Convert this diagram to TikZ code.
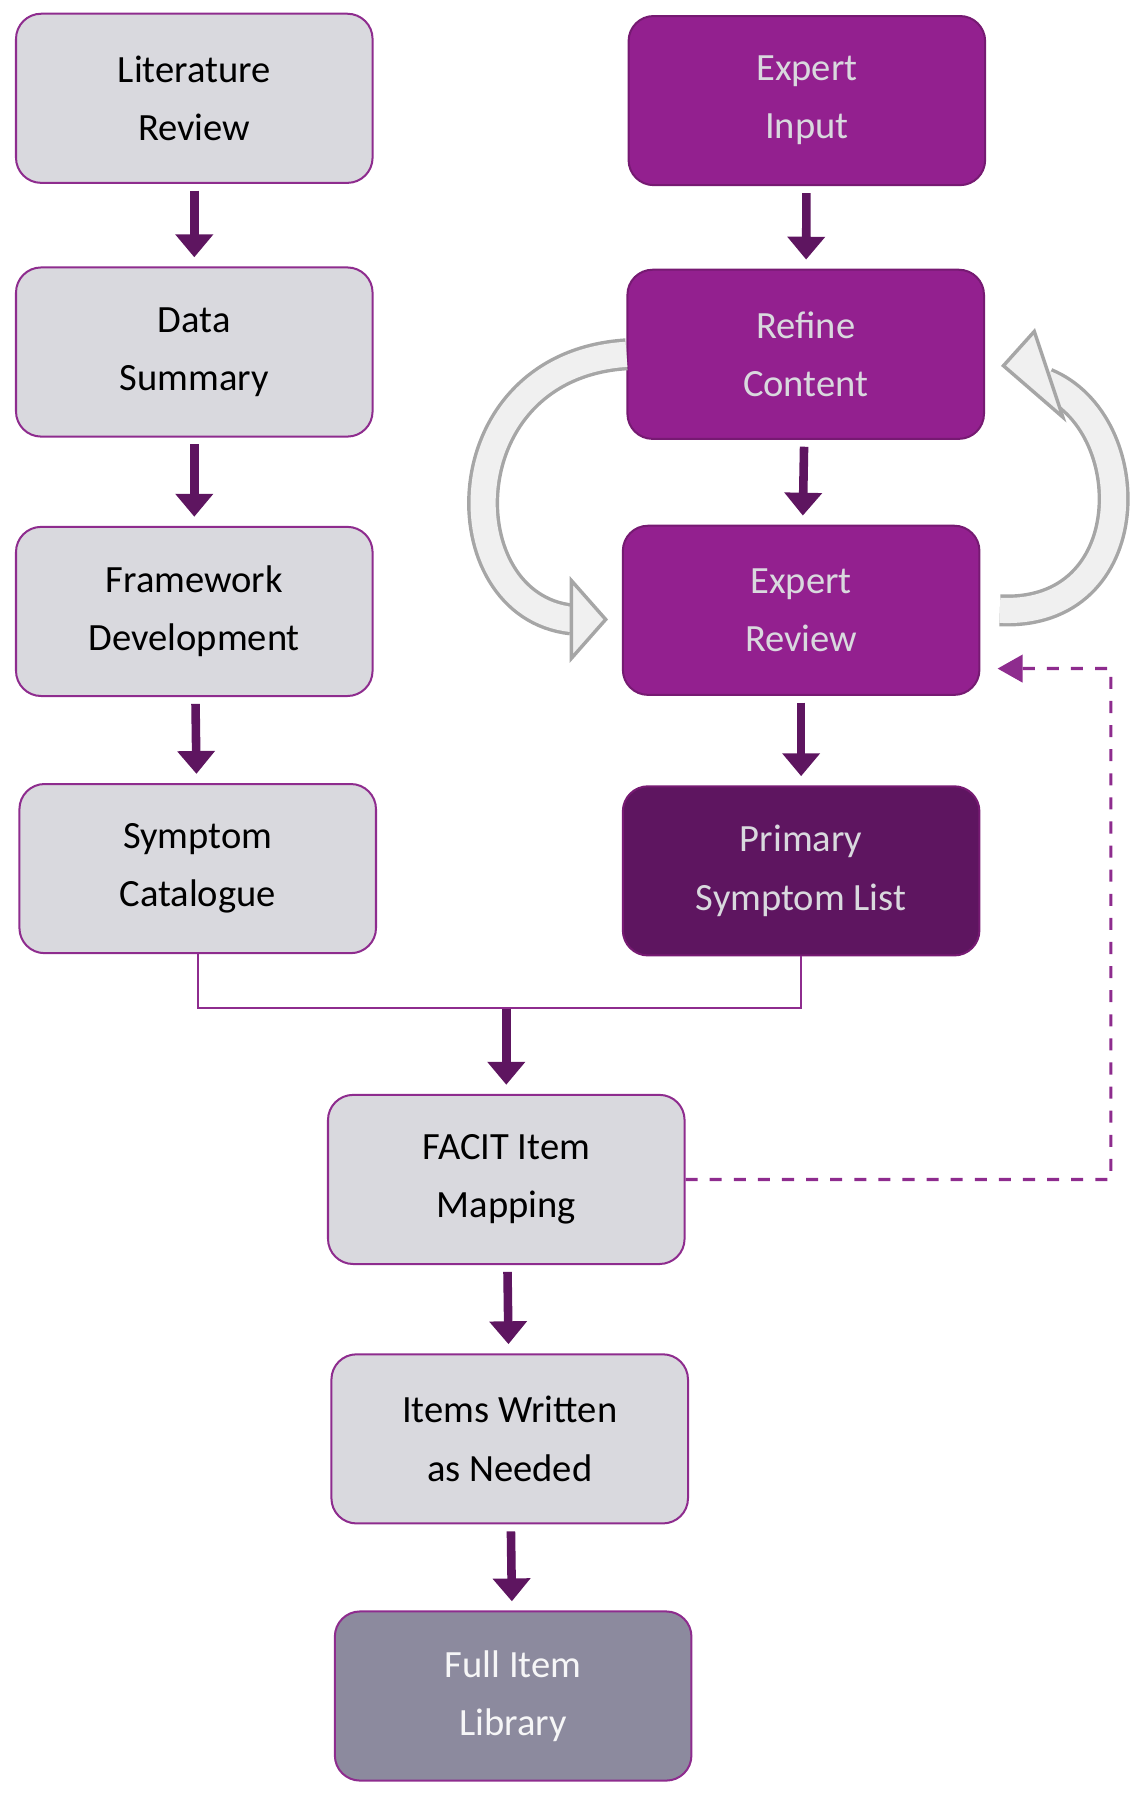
\documentclass[tikz,border=0pt]{standalone}
\usepackage{fontspec}
\setmainfont{Carlito}
\usetikzlibrary{arrows.meta,positioning}
\definecolor{pgrey}{HTML}{D9D9DE}
\definecolor{pline}{HTML}{8E2C8E}
\definecolor{pmain}{HTML}{93208F}
\definecolor{pdark}{HTML}{5E1560}
\definecolor{plib}{HTML}{8C8A9E}
\begin{document}
\begin{tikzpicture}
\tikzstyle{box}=[rectangle, rounded corners=2.2mm, minimum width=31.2mm, minimum height=14.8mm, align=center, font=\fontsize{9.6}{14.5}\selectfont, line width=0.5pt]
\tikzstyle{grey}=[box, fill=pgrey, draw=pline]
\tikzstyle{purp}=[box, fill=pmain, draw=pmain!80!black, text=pgrey]
\tikzstyle{connect}=[-{Triangle[length=2mm,width=3.2mm]}, line width=0.75mm, pdark, shorten <=0.6mm, shorten >=0.8mm]
\tikzstyle{loop}=[line width=0.3mm, draw=gray!70, double=gray!12, double distance=2.2mm]
\useasboundingbox (0,0) rectangle (10,-15.75);
  \node[grey] (lit) at (1.70,-0.86) {Literature\\Review};
  \node[grey] (data) at (1.70,-3.08) {Data\\Summary};
  \node[grey] (frame) at (1.70,-5.35) {Framework\\Development};
  \node[grey] (symp) at (1.73,-7.60) {Symptom\\Catalogue};
  \node[purp] (input) at (7.06,-0.88) {Expert\\Input};
  \node[purp] (refine) at (7.05,-3.10) {Refine\\Content};
  \node[purp] (review) at (7.01,-5.34) {Expert\\Review};
  \node[purp, fill=pdark] (prim) at (7.01,-7.62) {Primary\\Symptom List};
  \node[grey] (facit) at (4.43,-10.32) {FACIT Item\\Mapping};
  \node[grey] (items) at (4.46,-12.59) {Items Written\\as Needed};
  \node[box, fill=plib, draw=pline, text=white!92!plib] (full) at (4.49,-14.84) {Full Item\\Library};
  \coordinate (join) at (4.43,-8.82);
\draw[connect] (lit) -- (data);
\draw[connect] (data) -- (frame);
\draw[connect] (frame) -- (symp);
\draw[connect] (input) -- (refine);
\draw[connect] (refine) -- (review);
\draw[connect] (review) -- (prim);
\draw[connect, shorten <=0mm] (join) -- (facit);
\draw[connect] (facit) -- (items);
\draw[connect] (items) -- (full);
\draw[pline, line width=0.5pt] (symp.south) |- (join) -| (prim.south);
\draw[pline, dashed, line width=0.8pt, -{Triangle[length=2.2mm,width=2.4mm]}] (facit.east) -| (9.72,-5.85) -- ([xshift=1.5mm,yshift=-5.1mm]review.east);
% feedback loops
\draw[loop] (refine.west) .. controls (3.9,-3.2) and (3.9,-5.3) .. (5.0,-5.42);
\filldraw[draw=gray!70, fill=gray!12, line width=0.3mm] (5.0,-5.08) -- (5.3,-5.42) -- (5.0,-5.76) -- cycle;
\draw[loop] ([xshift=1.7mm]review.east) .. controls (10.0,-5.4) and (10.0,-3.7) .. (9.15,-3.35);
\filldraw[draw=gray!70, fill=gray!12, line width=0.3mm] (9.05,-2.9) -- (8.78,-3.2) -- (9.3,-3.65) -- cycle;
\end{tikzpicture}
\end{document}
